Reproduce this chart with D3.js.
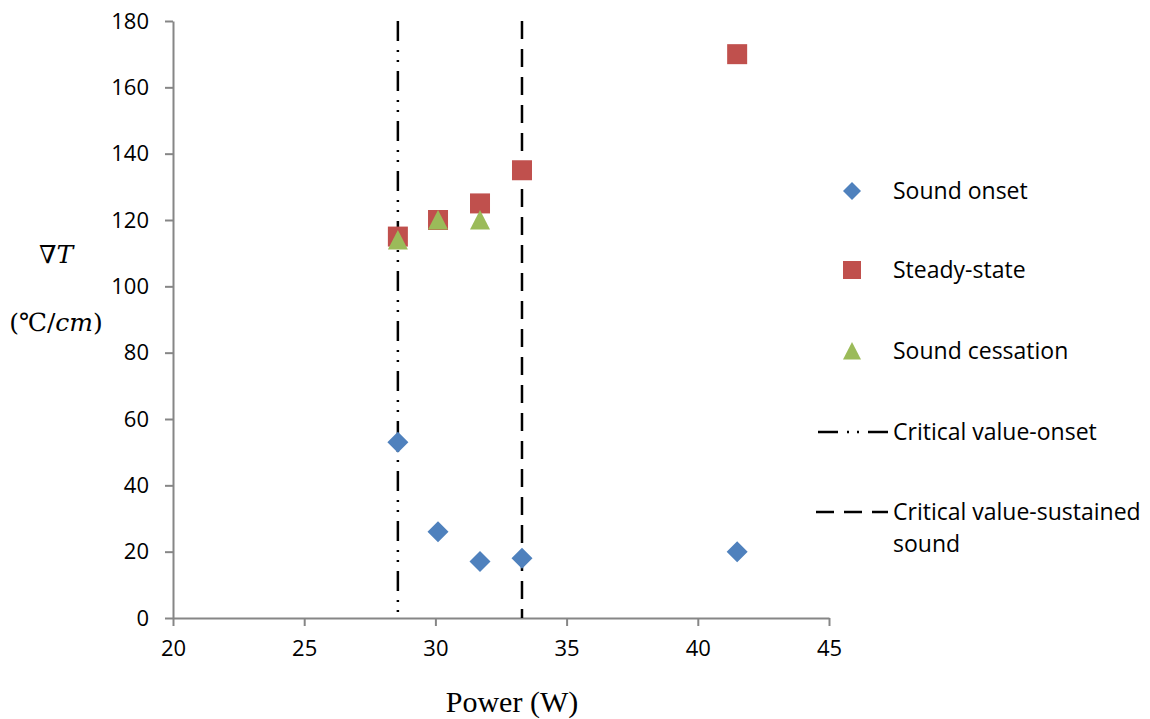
<!DOCTYPE html>
<html><head><meta charset="utf-8">
<script src="https://cdn.jsdelivr.net/npm/d3@7"></script>
<style>body{margin:0;background:#fff}svg{display:block}</style>
</head><body>
<svg id="chart" width="1150" height="719"></svg>
<script>
const xTicks = [20,25,30,35,40,45];
const yTicks = [0,20,40,60,80,100,120,140,160,180];
const onsetPower = [28.57, 30.1, 31.7, 33.3, 41.5];
const onsetGrad = [53, 26, 17, 18, 20];
const steadyPower = [28.57, 30.1, 31.7, 33.3, 41.5];
const steadyGrad = [115, 120, 125, 135, 170];
const cessPower = [28.57, 30.1, 31.7];
const cessGrad = [114, 120, 120];
const critOnset = 28.57;
const critSustained = 33.3;
const legendLabels = ["Sound onset","Steady-state","Sound cessation","Critical value-onset","Critical value-sustained"];

const svg = d3.select("#chart");
const x = d3.scaleLinear().domain([20,45]).range([173,829]);
const y = d3.scaleLinear().domain([0,180]).range([618,21]);
const font = "'Open Sans', Lato, sans-serif";
const dashOnset = "20,9,2,8,2,9";
const dashSust = "18,10";

// axes
const gx = svg.append("g").attr("transform","translate(0,"+y(0)+")")
  .call(d3.axisBottom(x).tickValues(xTicks).tickSize(8).tickSizeOuter(0).tickPadding(10));
const gy = svg.append("g").attr("transform","translate("+x(20)+",0)")
  .call(d3.axisLeft(y).tickValues(yTicks).tickSize(8).tickSizeOuter(0).tickPadding(16));
[gx,gy].forEach(g=>{
  g.selectAll("path,line").attr("stroke","#868686").attr("stroke-width",2);
  g.selectAll("text").attr("font-family",font).attr("font-size",22).attr("fill","#000");
});
gx.selectAll("text").attr("dy","0.9em");

// critical lines
svg.append("line").attr("x1",x(critOnset)).attr("x2",x(critOnset)).attr("y1",y(180)).attr("y2",y(0))
  .attr("stroke","#000").attr("stroke-width",2.5).attr("stroke-dasharray",dashOnset);
svg.append("line").attr("x1",x(critSustained)).attr("x2",x(critSustained)).attr("y1",y(180)).attr("y2",y(0))
  .attr("stroke","#000").attr("stroke-width",2.5).attr("stroke-dasharray",dashSust);

const colors = {blue:"#4F81BD", red:"#C0504D", green:"#9BBB59"};
function diamond(g, cx, cy, s){ g.append("path").attr("d",`M${cx},${cy-s}L${cx+s},${cy}L${cx},${cy+s}L${cx-s},${cy}Z`).attr("fill",colors.blue); }
function square(g, cx, cy, s){ g.append("rect").attr("x",cx-s).attr("y",cy-s).attr("width",2*s).attr("height",2*s).attr("fill",colors.red); }
function tri(g, cx, cy, s){ g.append("path").attr("d",`M${cx},${cy-s}L${cx+s},${cy+s*0.95}L${cx-s},${cy+s*0.95}Z`).attr("fill",colors.green); }

const marks = svg.append("g");
onsetPower.forEach((p,i)=>diamond(marks, x(p), y(onsetGrad[i]), 10.5));
steadyPower.forEach((p,i)=>square(marks, x(p), y(steadyGrad[i]), 10));
cessPower.forEach((p,i)=>tri(marks, x(p), y(cessGrad[i]), 10));

// legend
const lg = svg.append("g");
const lx = 852, tx = 893;
const rows = [191, 270, 351, 432, 512];
diamond(lg, lx, rows[0], 9);
square(lg, lx, rows[1], 9);
tri(lg, lx, rows[2], 9);
lg.append("line").attr("x1",818).attr("x2",888).attr("y1",rows[3]).attr("y2",rows[3])
  .attr("stroke","#000").attr("stroke-width",2.5).attr("stroke-dasharray",dashOnset);
lg.append("line").attr("x1",816).attr("x2",888).attr("y1",rows[4]).attr("y2",rows[4])
  .attr("stroke","#000").attr("stroke-width",2.5).attr("stroke-dasharray",dashSust);
legendLabels.forEach((t,i)=>{
  lg.append("text").attr("x",tx).attr("y",rows[i]).attr("dy","0.35em")
    .attr("font-family",font).attr("font-size",23).attr("fill","#000").text(t);
});
lg.append("text").attr("x",tx).attr("y",rows[4]+32).attr("dy","0.35em")
  .attr("font-family",font).attr("font-size",23).attr("fill","#000").text("sound");

// axis titles
svg.append("text").attr("x",512).attr("y",712).attr("text-anchor","middle")
  .attr("font-family","'Liberation Serif', serif").attr("font-size",30).text("Power (W)");
const yl = svg.append("g").attr("font-family","'DejaVu Serif', 'Liberation Serif', serif").attr("font-size",25);
yl.append("text").attr("x",56).attr("y",263).attr("text-anchor","middle").attr("font-style","italic").text("∇T");
const t2 = yl.append("text").attr("x",56).attr("y",331).attr("text-anchor","middle");
t2.append("tspan").text("(℃/");
t2.append("tspan").attr("font-style","italic").text("cm");
t2.append("tspan").text(")");
</script>
</body></html>
